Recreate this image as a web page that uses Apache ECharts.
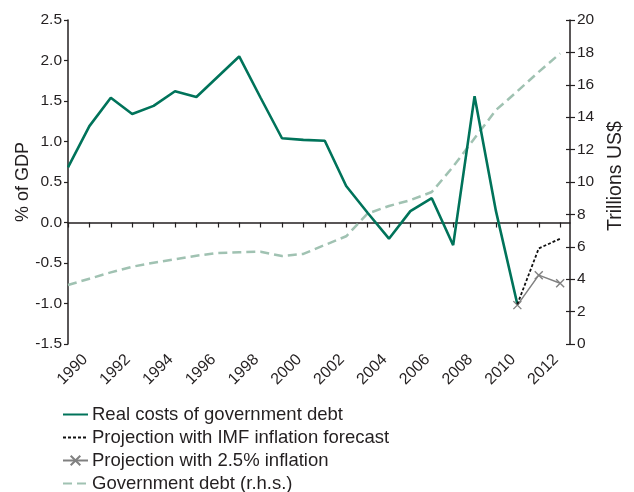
<!DOCTYPE html>
<html>
<head>
<meta charset="utf-8">
<script src="https://cdn.jsdelivr.net/npm/echarts@6/dist/echarts.min.js"></script>
<style>
html,body{margin:0;padding:0;background:#fff;}
#chart{width:634px;height:492px;}
</style>
</head>
<body>
<div id="chart"></div>
<script>
// Years on the x axis (1989 .. 2012)
var years = [1989,1990,1991,1992,1993,1994,1995,1996,1997,1998,1999,2000,2001,2002,2003,2004,2005,2006,2007,2008,2009,2010,2011,2012];
var labelYears = [1990,1992,1994,1996,1998,2000,2002,2004,2006,2008,2010,2012];
// Real costs of government debt, % of GDP (1989 .. 2010)
var realCostYears = [1989,1990,1991,1992,1993,1994,1995,1996,1997,1998,1999,2000,2001,2002,2003,2004,2005,2006,2007,2008,2009,2010];
var realCost = [0.68,1.19,1.54,1.34,1.44,1.62,1.55,1.80,2.05,1.54,1.04,1.02,1.01,0.45,0.12,-0.20,0.14,0.30,-0.28,1.56,0.14,-1.01];
// Projections (2010 .. 2012)
var projYears = [2010,2011,2012];
var imfProj = [-1.01,-0.32,-0.20];
var infl25Proj = [-1.02,-0.65,-0.75];
// Government debt, trillions US$ (1989 .. 2012)
var govDebt = [3.64,4.03,4.42,4.77,5.02,5.23,5.45,5.62,5.66,5.70,5.43,5.56,6.11,6.65,8.05,8.52,8.88,9.38,10.95,12.7,14.44,15.6,16.8,17.94];
// Axis ticks
var leftTicks = {min:-1.5, max:2.5, interval:0.5};
var rightTicks = {min:0, max:20, interval:2};

function pairs(xs, ys){ return xs.map(function(x,i){ return [x, ys[i]]; }); }

var txt = '#231F20';
var font = 'Liberation Sans';
var axisColor = '#231F20';

var chart = echarts.init(document.getElementById('chart'));
chart.setOption({
  animation:false,
  textStyle:{fontFamily:font, color:txt},
  grid:{left:68, right:56, top:20, bottom:148, containLabel:false},
  xAxis:[
    {type:'value', min:1989, max:2012.46, position:'bottom',
     axisLine:{show:true, onZero:true, onZeroAxisIndex:0, lineStyle:{color:axisColor, width:1.5}},
     axisTick:{show:true, customValues:years, length:5, lineStyle:{color:axisColor, width:1.2}},
     axisLabel:{show:false}, splitLine:{show:false}},
    {type:'value', min:1989.2, max:2012.66, position:'bottom',
     axisLine:{show:false, onZero:false}, axisTick:{show:false}, splitLine:{show:false},
     axisLabel:{show:true, customValues:labelYears, rotate:45, margin:13, fontSize:16, color:txt, fontFamily:font,
       formatter:function(v){return String(v);}}}
  ],
  yAxis:[
    {type:'value', min:leftTicks.min, max:leftTicks.max, interval:leftTicks.interval, position:'left',
     name:'% of GDP', nameLocation:'middle', nameGap:36, nameRotate:90, nameMoveOverlap:false,
     nameTextStyle:{fontSize:18, color:txt, fontFamily:font},
     axisLine:{show:true, lineStyle:{color:axisColor, width:1.5}},
     axisTick:{show:true, length:4, lineStyle:{color:axisColor, width:1.2}},
     axisLabel:{fontSize:15.5, color:txt, margin:6, fontFamily:font, formatter:function(v){return v.toFixed(1);}},
     splitLine:{show:false}},
    {type:'value', min:rightTicks.min, max:rightTicks.max, interval:rightTicks.interval, position:'right',
     name:'Trillions US$', nameLocation:'middle', nameGap:36, nameRotate:90, nameMoveOverlap:false,
     nameTextStyle:{fontSize:19.5, color:txt, fontFamily:font, padding:[0,0,0,12]},
     axisLine:{show:true, lineStyle:{color:axisColor, width:1.5}},
     axisTick:{show:true, length:5, lineStyle:{color:axisColor, width:1.2}},
     axisLabel:{fontSize:15.5, color:txt, margin:7, fontFamily:font},
     splitLine:{show:false}},
    {type:'value', min:rightTicks.min, max:rightTicks.max, interval:rightTicks.interval, position:'right',
     axisLine:{show:false}, axisLabel:{show:false}, splitLine:{show:false},
     axisTick:{show:true, inside:true, length:4, lineStyle:{color:axisColor, width:1.2}}}
  ],
  legend:{
    orient:'vertical', left:62, top:405, height:120, padding:0, itemWidth:25, itemHeight:12, itemGap:4,
    textStyle:{fontSize:18.5, lineHeight:18, color:txt, fontFamily:font, padding:[0,0,0,-1]},
    data:[
      {name:'Real costs of government debt', itemStyle:{opacity:0}},
      {name:'Projection with IMF inflation forecast', itemStyle:{opacity:0}},
      {name:'Projection with 2.5% inflation'},
      {name:'Government debt (r.h.s.)', itemStyle:{opacity:0}}
    ]
  },
  series:[
    {name:'Government debt (r.h.s.)', type:'line', xAxisIndex:0, yAxisIndex:1, data:pairs(years, govDebt),
     symbol:'none', lineStyle:{color:'#A0C2B2', width:2.5, type:[9,5]}, itemStyle:{color:'#A0C2B2'}, z:1},
    {name:'Real costs of government debt', type:'line', xAxisIndex:0, yAxisIndex:0, data:pairs(realCostYears, realCost),
     symbol:'none', lineStyle:{color:'#00735A', width:2.6}, itemStyle:{color:'#00735A'}, z:3},
    {name:'Projection with 2.5% inflation', type:'line', xAxisIndex:0, yAxisIndex:0, data:pairs(projYears, infl25Proj),
     symbol:'path://M0,0L10,10M10,0L0,10', symbolSize:8, showSymbol:true,
     lineStyle:{color:'#808080', width:1.5}, itemStyle:{color:'#808080', borderColor:'#808080', borderWidth:1.4}, z:4},
    {name:'Projection with IMF inflation forecast', type:'line', xAxisIndex:0, yAxisIndex:0, data:pairs(projYears, imfProj),
     symbol:'none', lineStyle:{color:'#111111', width:1.8, type:[3,2]}, itemStyle:{color:'#111111'}, z:5}
  ]
});
</script>
</body>
</html>
